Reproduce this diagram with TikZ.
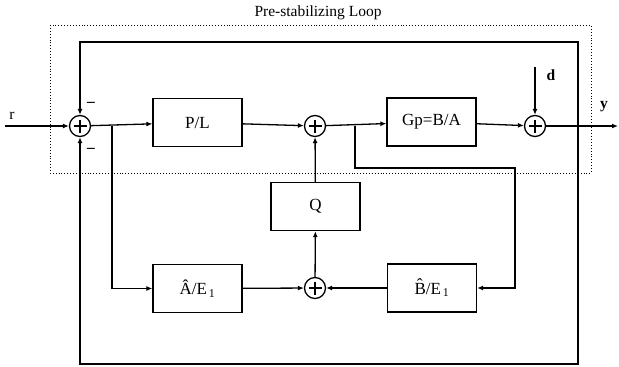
\documentclass[tikz,border=0pt]{standalone}
\usepackage{fontspec}
\setmainfont{Liberation Serif}
\usetikzlibrary{arrows.meta}

\begin{document}
\begin{tikzpicture}[
  x=1pt, y=-1pt,
  line width=1.3pt,
  every node/.style={font=\fontsize{15.5}{18}\selectfont},
  block/.style={rectangle, draw, minimum width=89pt, minimum height=48pt, inner sep=0pt, font=\fontsize{17}{20}\selectfont},
  sum/.style={circle, draw, minimum size=21pt, inner sep=0pt,
    path picture={\draw[line width=1.6pt] ([xshift=-6.5pt]path picture bounding box.center) -- ([xshift=6.5pt]path picture bounding box.center)
      ([yshift=-6.5pt]path picture bounding box.center) -- ([yshift=6.5pt]path picture bounding box.center);}},
  arrow/.style={-{Latex[length=6pt,width=5pt]}},
  loopbox/.style={draw, dotted, line width=0.9pt}
]
\useasboundingbox (0,0) rectangle (619,367);

% pre-stabilizing loop
\draw[loopbox] (50,25) rectangle (591,173);
\node (looplabel) at (318,13) {Pre-stabilizing Loop};

% sums and blocks
\node[sum] (s1) at (80,126) {};
\node[block] (pl) at (197.5,122.5) {P/L};
\node[sum] (s2) at (315,126) {};
\node[block] (gp) at (431.5,122) {Gp=B/A};
\node[sum] (s3) at (535,126) {};
\node[block] (q) at (315.5,206.5) {Q};
\node[block] (ahat) at (197.5,288.5) {\^{A}/E\textsubscript{\,1}};
\node[sum] (s4) at (315,288) {};
\node[block] (bhat) at (432,288) {\^{B}/E\textsubscript{\,1}};

% labels
\node (rlabel) at (12,116) {r};
\node (minusup) at (91,104) {\textbf{--}};
\node (minusdown) at (91,150) {\textbf{--}};
\node (dlabel) at (551,75) {\textbf{d}};
\node (ylabel) at (604,107) {\textbf{y}};

\coordinate (rin) at (5,126);
\coordinate (din) at (535,67);
\coordinate (yout) at (618,126);
\coordinate (fb) at (578,126);
\coordinate (errbr) at (112,126);
\coordinate (ubr) at (355,126);

% forward path
\draw[arrow] (rin) -- (s1);
\draw[arrow] (s1) -- (pl);
\draw[arrow] (pl) -- (s2);
\draw[arrow] (s2) -- (gp);
\draw[arrow] (gp) -- (s3);
\draw[arrow] (din) -- (s3);
\draw[arrow] (s3) -- (yout);

% feedback
\draw[arrow] (fb) -- (578,42) -| (s1.north);
\draw[arrow] (fb) -- (578,364) -| (s1.south);

% model branch
\draw[arrow] (errbr) |- (ahat.west);
\draw[arrow] (ubr) -- (355,168) -| (515,230) |- (bhat.east);
\draw[arrow] (ahat) -- (s4);
\draw[arrow] (bhat) -- (s4);
\draw[arrow] (s4) -- (q);
\draw[arrow] (q) -- (s2);
\end{tikzpicture}
\end{document}
